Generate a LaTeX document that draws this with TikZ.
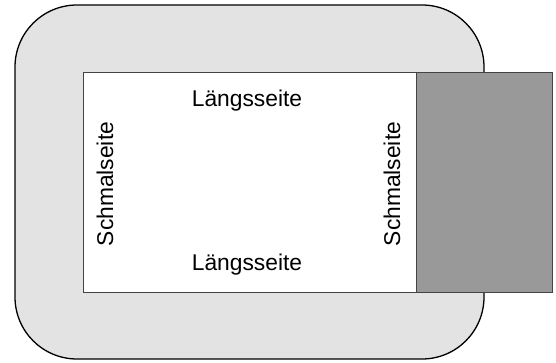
\documentclass[tikz,border=0pt]{standalone}
\usepackage{fontspec}
\setmainfont{Liberation Sans}
\definecolor{lightfill}{HTML}{E3E3E3}
\definecolor{darkfill}{HTML}{999999}
\definecolor{edgegray}{HTML}{444444}
\begin{document}
\begin{tikzpicture}[x=1pt,y=-1pt,
  outer/.style={fill=lightfill,draw=black,line width=1.3pt,rounded corners=62pt},
  inner/.style={fill=white,draw=edgegray,line width=1pt},
  block/.style={fill=darkfill,draw=edgegray,line width=1pt},
  lbl/.style={font=\fontsize{22.8}{26}\selectfont,inner sep=0pt}]
\useasboundingbox (0,0) rectangle (556,363);
\draw[outer] (15,5) rectangle (484,359);
\draw[inner] (83,73) rectangle (416,292);
\draw[block] (416,73) rectangle (552,292);
\node[lbl] (top) at (247,101) {Längsseite};
\node[lbl] (bottom) at (247,265) {Längsseite};
\node[lbl,rotate=90] (left) at (105,184) {Schmalseite};
\node[lbl,rotate=90] (right) at (392,184) {Schmalseite};
\end{tikzpicture}
\end{document}
